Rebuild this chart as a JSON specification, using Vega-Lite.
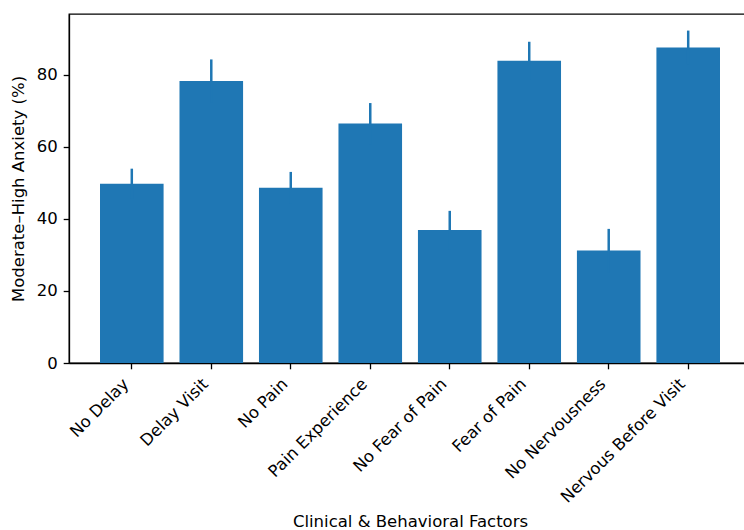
{
  "$schema": "https://vega.github.io/schema/vega-lite/v6.json",
  "autosize": {"type": "none"},
  "padding": {"left": 69, "top": 14, "right": 0, "bottom": 167},
  "width": 682,
  "height": 349,
  "background": "white",
  "config": {
    "font": "DejaVu Sans",
    "view": {"stroke": "black", "strokeWidth": 1.3},
    "axis": {
      "domainColor": "black",
      "domainWidth": 1.3,
      "tickColor": "black",
      "tickWidth": 1.3,
      "tickSize": 5.8,
      "labelPadding": 5,
      "labelFont": "DejaVu Sans",
      "labelFontSize": 16.5,
      "labelColor": "black",
      "titleFont": "DejaVu Sans",
      "titleFontSize": 16.5,
      "titleFontWeight": "normal",
      "titleColor": "black",
      "grid": false
    }
  },
  "data": {
    "values": [
      {"factor": "No Delay", "pct": 49.7, "err": 4.2},
      {"factor": "Delay Visit", "pct": 78.2, "err": 6.0},
      {"factor": "No Pain", "pct": 48.6, "err": 4.4},
      {"factor": "Pain Experience", "pct": 66.4, "err": 5.7},
      {"factor": "No Fear of Pain", "pct": 36.9, "err": 5.3},
      {"factor": "Fear of Pain", "pct": 83.8, "err": 5.3},
      {"factor": "No Nervousness", "pct": 31.2, "err": 6.0},
      {"factor": "Nervous Before Visit", "pct": 87.5, "err": 4.7}
    ]
  },
  "encoding": {
    "x": {
      "field": "factor",
      "type": "nominal",
      "sort": null,
      "scale": {"paddingInner": 0.2, "paddingOuter": 0.39},
      "axis": {
        "title": "Clinical & Behavioral Factors",
        "labelAngle": -45,
        "labelAlign": "right",
        "labelBaseline": "bottom",
        "labelPadding": 18,
        "titlePadding": 8
      }
    }
  },
  "layer": [
    {
      "mark": {"type": "bar", "color": "#1f77b4"},
      "encoding": {
        "y": {
          "field": "pct",
          "type": "quantitative",
          "scale": {"domain": [0, 96.8], "nice": false, "zero": true},
          "axis": {"title": "Moderate–High Anxiety (%)", "values": [0, 20, 40, 60, 80], "titlePadding": 10, "labelPadding": 6}
        }
      }
    },
    {
      "mark": {"type": "errorbar", "color": "#1f77b4", "thickness": 2.5, "ticks": false},
      "encoding": {
        "y": {"field": "pct", "type": "quantitative", "title": "Moderate–High Anxiety (%)"},
        "yError": {"field": "err"}
      }
    }
  ]
}
